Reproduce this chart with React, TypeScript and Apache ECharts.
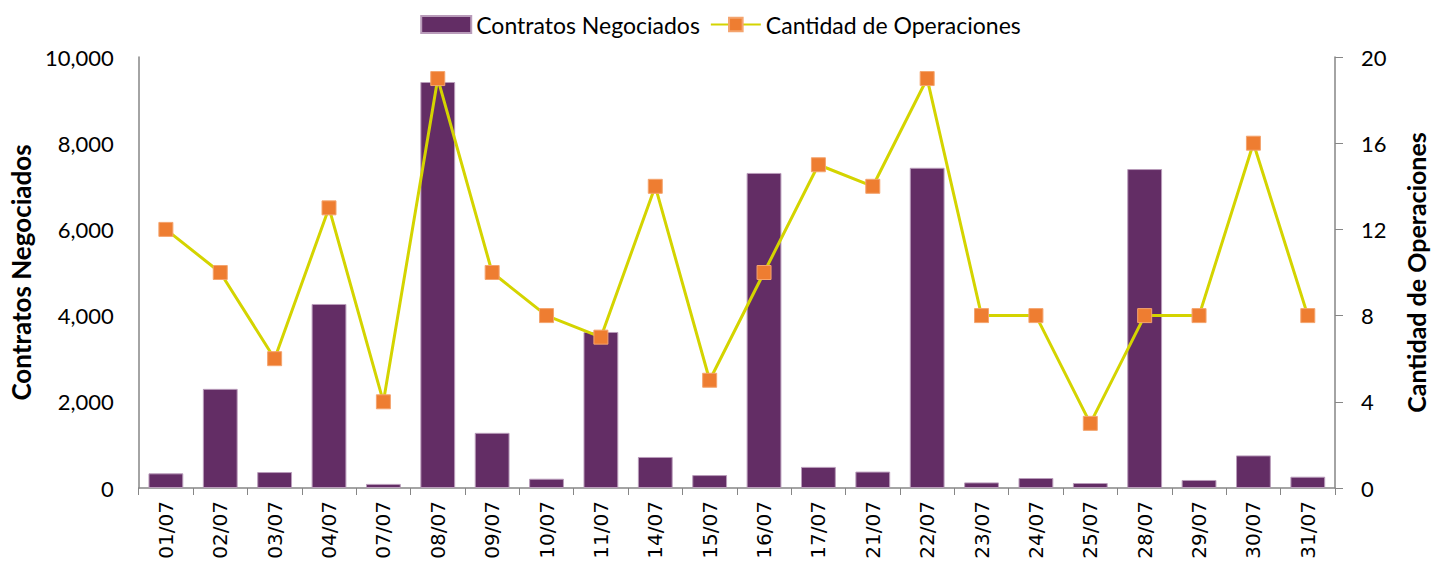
import React, { useEffect, useRef } from "react";
import * as echarts from "echarts";

const categories = ["01/07","02/07","03/07","04/07","07/07","08/07","09/07","10/07","11/07","14/07","15/07","16/07","17/07","21/07","22/07","23/07","24/07","25/07","28/07","29/07","30/07","31/07"];
const contratos = [340, 2300, 370, 4270, 95, 9420, 1280, 215, 3620, 720, 300, 7310, 490, 380, 7430, 130, 232, 116, 7400, 186, 756, 262];
const operaciones = [12, 10, 6, 13, 4, 19, 10, 8, 7, 14, 5, 10, 15, 14, 19, 8, 8, 3, 8, 8, 16, 8];

const FONT = "Lato, 'Open Sans', sans-serif";

export default function App() {
  const ref = useRef<HTMLDivElement>(null);
  useEffect(() => {
    if (!ref.current) return;
    const chart = echarts.init(ref.current, null, { renderer: "svg" });
    chart.setOption({
      animation: false,
      textStyle: { fontFamily: FONT },
      legend: {
        top: 8,
        left: "center",
        itemWidth: 50,
        itemHeight: 17,
        itemGap: 10,
        textStyle: { fontSize: 23, color: "#000", fontFamily: FONT },
        data: [
          { name: "Contratos Negociados", icon: "rect" },
          { name: "Cantidad de Operaciones" },
        ],
      },
      grid: { left: 133, right: 106, top: 57, bottom: 79, containLabel: false },
      xAxis: {
        type: "category",
        data: categories,
        axisLine: { lineStyle: { color: "#868686", width: 1.5 } },
        axisTick: { show: true, alignWithLabel: false, length: 7, lineStyle: { color: "#868686" } },
        axisLabel: { rotate: 90, fontSize: 20, color: "#000", fontFamily: "DejaVu Sans", margin: 13 },
      },
      yAxis: [
        {
          type: "value",
          min: 0,
          max: 10000,
          interval: 2000,
          name: "Contratos Negociados",
          nameLocation: "middle",
          nameRotate: 90,
          nameGap: 101,
          nameTextStyle: { fontSize: 26, fontWeight: "bold", color: "#000", fontFamily: FONT },
          axisLine: { show: true, lineStyle: { color: "#868686", width: 1.5 } },
          axisTick: { show: false },
          splitLine: { show: false },
          axisLabel: {
            fontSize: 22,
            color: "#000",
            margin: 25,
            formatter: (v: number) => v.toLocaleString("en-US"),
          },
        },
        {
          type: "value",
          min: 0,
          max: 20,
          interval: 4,
          name: "Cantidad de Operaciones",
          nameLocation: "middle",
          nameRotate: 90,
          nameGap: 68,
          nameTextStyle: { fontSize: 25, fontWeight: "bold", color: "#000", fontFamily: FONT },
          axisLine: { show: true, lineStyle: { color: "#868686", width: 1.5 } },
          axisTick: { show: true, length: 8, lineStyle: { color: "#868686" } },
          splitLine: { show: false },
          axisLabel: { fontSize: 22, color: "#000", margin: 26 },
        },
      ],
      series: [
        {
          name: "Contratos Negociados",
          type: "bar",
          data: contratos,
          yAxisIndex: 0,
          barCategoryGap: "36%",
          itemStyle: { color: "#632d65", borderColor: "#b99cba", borderWidth: 1 },
        },
        {
          name: "Cantidad de Operaciones",
          type: "line",
          data: operaciones,
          yAxisIndex: 1,
          symbol: "rect",
          symbolSize: 14,
          lineStyle: { color: "#d4d400", width: 3 },
          itemStyle: { color: "#ee7d31", borderColor: "#f4a46e", borderWidth: 1 },
        },
      ],
    });
    return () => chart.dispose();
  }, []);
  return <div ref={ref} style={{ position: "absolute", left: 0, top: 0, width: 1441, height: 567 }} />;
}
